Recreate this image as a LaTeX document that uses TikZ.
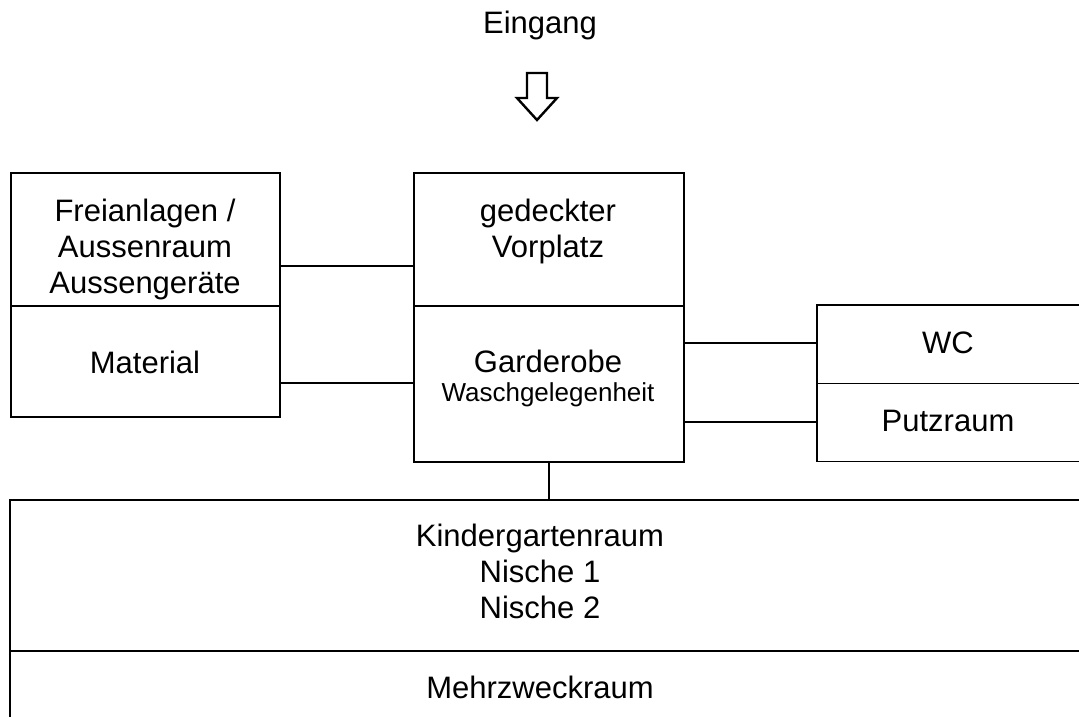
\documentclass[tikz,border=0pt]{standalone}
\usepackage{fontspec}
\setmainfont{Liberation Sans}
\begin{document}
\begin{tikzpicture}[x=1pt,y=-1pt,
  room/.style={draw,line width=1.8pt,inner sep=0pt,anchor=north west},
  openroom/.style={inner sep=0pt,anchor=north west},
  wall/.style={line width=1.8pt},
  thickwall/.style={line width=2pt},
  conn/.style={line width=1.8pt},
  lbl/.style={inner sep=0pt,align=center,font=\fontsize{31}{36}\selectfont},
  small/.style={inner sep=0pt,align=center,font=\fontsize{26}{30}\selectfont}]
\useasboundingbox (0,0) rectangle (1079,717);
% title and arrow
\node[lbl] (eingang) at (540,25) {Eingang};
\draw[line width=2.4pt,line join=miter] (527,73) -- (547,73) -- (547,98) -- (557,98) -- (537,120) -- (517,98) -- (527,98) -- cycle;
% left rooms
\node[room,minimum width=269pt,minimum height=133pt] (freian) at (10,172) {};
\node[room,minimum width=269pt,minimum height=111pt] (material) at (10,305) {};
% middle rooms
\node[room,minimum width=270pt,minimum height=133pt] (vorplatz) at (413,172) {};
\node[room,minimum width=270pt,minimum height=156pt] (garderobe) at (413,305) {};
% right rooms (open to the right)
\node[openroom,minimum width=262pt,minimum height=78pt] (wc) at (817,305) {};
\node[openroom,minimum width=262pt,minimum height=78pt] (putz) at (817,383) {};
\draw[wall] (wc.north east) -- (wc.north west) -- (putz.south west) -- (putz.south east);
\draw[wall] (wc.south west) -- (wc.south east);
% bottom rooms (open to the right and bottom)
\node[openroom,minimum width=1069pt,minimum height=151pt] (kinder) at (10,500) {};
\node[openroom,minimum width=1069pt,minimum height=66pt] (mehr) at (10,651) {};
\draw[thickwall] (kinder.north east) -- (kinder.north west) -- (mehr.south west);
\draw[thickwall] (kinder.south west) -- (kinder.south east);
% texts
\node[lbl] (tfreian) at (145,249) {Freianlagen /\\Aussenraum\\Aussenger\"ate};
\node[lbl] (tmaterial) at (145,362) {Material};
\node[lbl] (tvorplatz) at (548,231) {gedeckter\\Vorplatz};
\node[lbl] (tgarderobe) at (548,361) {Garderobe};
\node[small] (twasch) at (548,395) {Waschgelegenheit};
\node[lbl] (twc) at (948,343) {WC};
\node[lbl] (tputz) at (948,421) {Putzraum};
\node[lbl] (tkinder) at (540,571) {Kindergartenraum\\Nische 1\\Nische 2};
\node[lbl] (tmehr) at (540,687) {Mehrzweckraum};
% connectors
\coordinate (y1) at (0,266);
\coordinate (y2) at (0,383);
\coordinate (y3) at (0,343);
\coordinate (y4) at (0,422);
\draw[conn] (freian.east |- y1) -- (vorplatz.west |- y1);
\draw[conn] (material.east |- y2) -- (garderobe.west |- y2);
\draw[conn] (garderobe.east |- y3) -- (wc.west |- y3);
\draw[conn] (garderobe.east |- y4) -- (putz.west |- y4);
\draw[conn] (garderobe.south) -- (garderobe.south |- kinder.north);
\end{tikzpicture}
\end{document}
